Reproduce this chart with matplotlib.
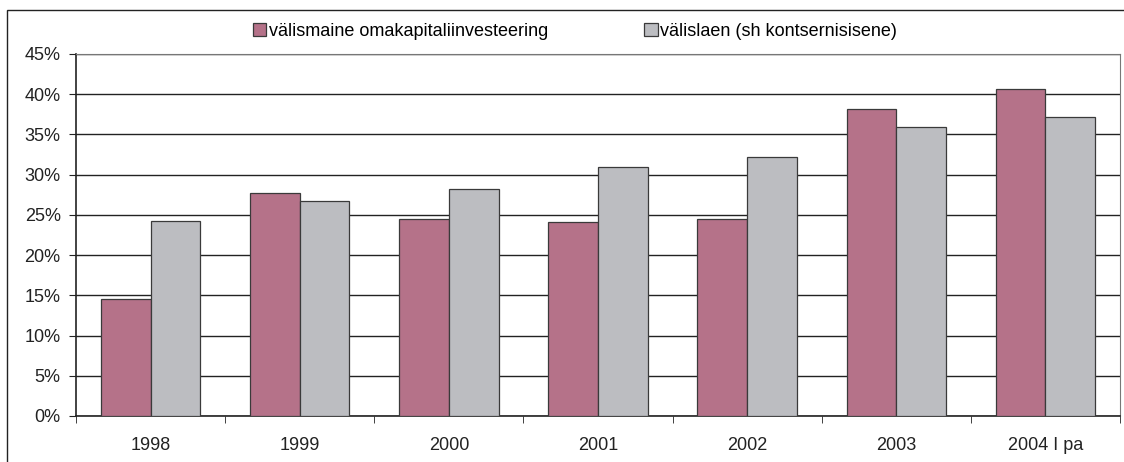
import numpy as np
import matplotlib
matplotlib.use('Agg')
import matplotlib.pyplot as plt
from matplotlib.patches import Rectangle
from matplotlib.ticker import FixedLocator, PercentFormatter

years = ['1998', '1999', '2000', '2001', '2002', '2003', '2004 I pa']
equity = [14.6, 27.75, 24.5, 24.1, 24.5, 38.2, 40.65]
loans = [24.3, 26.75, 28.25, 31.0, 32.2, 35.9, 37.2]
labels = ['välismaine omakapitaliinvesteering', 'välislaen (sh kontsernisisene)']

plt.rcParams['font.family'] = ['Liberation Sans', 'DejaVu Sans']

W, H = 1124, 462
fig = plt.figure(figsize=(W / 100, H / 100), dpi=100)
ax = fig.add_axes([76 / W, (H - 416) / H, (1120 - 76) / W, (416 - 54) / H])

x = np.arange(len(years))
w = 1 / 3
b1 = ax.bar(x - w / 2, equity, w, color='#b57289', edgecolor='#3a3a3a', linewidth=0.9, zorder=3, label=labels[0])
b2 = ax.bar(x + w / 2, loans, w, color='#bcbdc1', edgecolor='#3a3a3a', linewidth=0.9, zorder=3, label=labels[1])

ax.set_xlim(-0.5, len(years) - 0.5)
ax.set_ylim(0, 45)
ax.set_yticks(np.arange(0, 46, 5))
ax.yaxis.set_major_formatter(PercentFormatter(decimals=0))
ax.grid(axis='y', color='#222222', linewidth=1, zorder=0)

ax.set_xticks(x)
ax.set_xticklabels(years)
ax.xaxis.set_minor_locator(FixedLocator(np.arange(-0.5, len(years), 1)))
ax.tick_params(axis='x', which='major', length=0, pad=15, labelsize=13, colors='#222222')
ax.tick_params(axis='x', which='minor', length=5, direction='out', color='#222222')
ax.tick_params(axis='y', length=5, direction='out', pad=6, labelsize=13, colors='#222222')

for s in ['top', 'right']:
    ax.spines[s].set_color('#777777')
for s in ['left', 'bottom']:
    ax.spines[s].set_color('#222222')
    ax.spines[s].set_linewidth(1.2)

fig.legend(handles=[b1, b2], loc='center', bbox_to_anchor=(575 / W, 1 - 31 / H), ncol=2,
           frameon=False, fontsize=13, handlelength=0.75, handleheight=0.75,
           handletextpad=0.15, columnspacing=5.3)

fig.patches.append(Rectangle((7 / W, -0.1), 1.2, 1.1 - 10 / H, transform=fig.transFigure,
                             fill=False, edgecolor='#222222', linewidth=1))

fig.savefig('out.png', dpi=100)
